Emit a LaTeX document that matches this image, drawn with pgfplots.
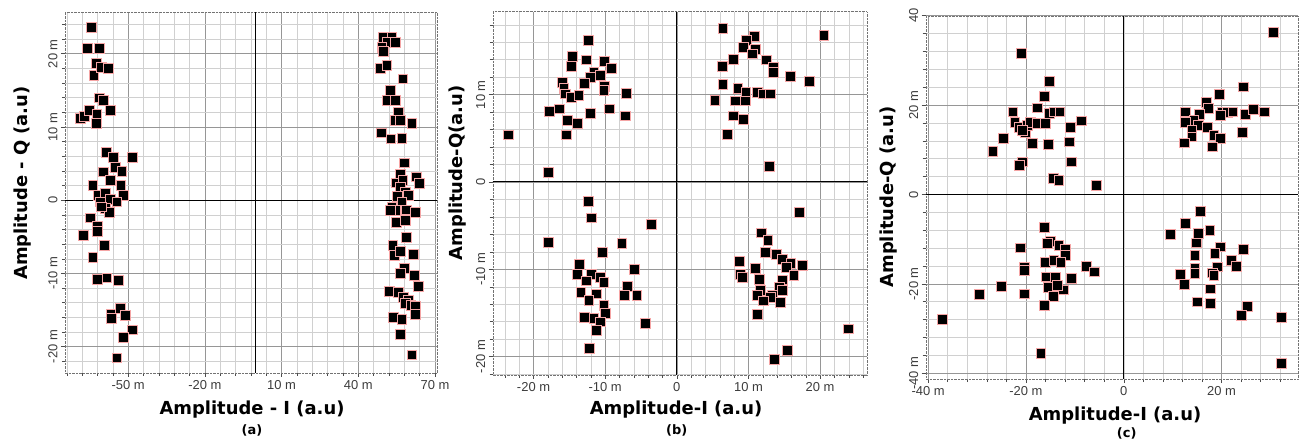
\documentclass[border=0pt]{standalone}
\usepackage{fontspec}
\setmainfont{DejaVu Sans}
\newfontfamily\tickfont{Liberation Sans}
\usepackage{pgfplots}
\pgfplotsset{compat=1.18}

\definecolor{edge}{RGB}{245,165,165}
\definecolor{majgrid}{RGB}{150,150,150}
\definecolor{mingrid}{RGB}{208,208,208}
\definecolor{ticktext}{RGB}{60,60,60}

\pgfplotsset{
  constel/.style={
    scale only axis,
    anchor=south west,
    axis line style={black!55, densely dotted},
    tick pos=left,
    tick align=outside,
    major tick length=4bp,
    minor tick length=3bp,
    tick style={black!70, line width=0.5pt, solid},
    grid=both,
    major grid style={majgrid, line width=0.6pt, solid},
    minor grid style={mingrid, line width=0.5pt, solid},
    ticklabel style={font=\tickfont\fontsize{13}{13}\selectfont, text=ticktext},
    yticklabel style={rotate=90, anchor=south},
    /pgf/number format/assume math mode=true,
    extra x ticks={0}, extra y ticks={0},
    extra x tick labels={}, extra y tick labels={},
    extra x tick style={grid=major, major grid style={black, line width=1pt, solid}, major tick length=0pt},
    extra y tick style={grid=major, major grid style={black, line width=1pt, solid}, major tick length=0pt},
  },
  zeroax/.style={
    scale only axis,
    anchor=south west,
    axis lines=middle,
    axis line style={black, line width=1pt, -},
    inner axis line style={-},
    tick align=center,
    major tick length=6bp,
    tick style={black!80, line width=0.5pt},
    xticklabel=\empty, yticklabel=\empty,
    grid=none,
  },
  sq/.style={only marks, mark=square*, mark size=4.9pt,
    mark options={fill=black, draw=edge, line width=0.45pt, solid}},
}

\begin{document}
\begin{tikzpicture}
\useasboundingbox (0,0) rectangle (1302bp,444bp);

% ---------------- panel (a)
\begin{axis}[zeroax, at={(65bp,71bp)}, width=372bp, height=361bp,
  xmin=-74.7, xmax=70.8, ymin=-23.6, ymax=25.7,
  xtick={-74,-68,...,70}, ytick={-22,-20,...,24}]
\end{axis}
\begin{axis}[constel, at={(65bp,71bp)}, width=372bp, height=361bp,
  xmin=-74.7, xmax=70.8, ymin=-23.6, ymax=25.7,
  xtick={-50,-20,10,40,70}, xticklabels={-50 m,-20 m,10 m,40 m,70 m},
  ytick={-20,-10,0,10,20}, yticklabels={-20 m,-10 m,0,10 m,20 m},
  minor xtick={-74,-68,...,70}, minor ytick={-22,-20,...,24}]
\addplot[sq] table {
x y
-64.5 23.6
-66.0 20.8
-61.3 20.8
-62.5 18.7
-63.5 17.1
-60.5 18.2
-57.8 18.0
-61.3 14.0
-59.7 13.6
-57.1 12.3
-68.8 11.2
-67.3 11.5
-65.2 12.3
-62.3 11.8
-62.5 10.5
-58.7 6.6
-55.8 5.9
-48.5 5.9
-59.7 3.9
-55.2 4.5
-52.5 4.0
-57.1 2.7
-52.9 2.0
-63.9 2.0
-61.7 0.7
-59.1 1.0
-51.9 0.7
-61.0 -0.2
-57.1 0.1
-54.5 -0.2
-59.1 -1.1
-57.4 -1.6
-60.4 -0.9
-64.9 -2.4
-62.1 -3.5
-62.1 -4.2
-67.5 -4.8
-59.3 -6.1
-63.9 -7.8
-62.1 -10.8
-58.4 -10.6
-53.8 -10.9
-56.5 -15.5
-56.5 -16.1
-53.2 -14.8
-51.2 -15.7
-48.4 -17.7
-51.9 -18.7
-54.5 -21.5
};
\addplot[sq] table {
x y
49.8 22.3
53.1 22.3
51.1 21.6
54.4 21.6
49.2 20.9
49.8 20.3
48.5 18.0
51.1 18.4
57.4 16.6
52.4 15.0
51.1 13.6
54.4 13.6
55.7 12.0
54.4 10.9
56.3 10.9
60.9 10.5
48.9 9.2
52.7 8.4
57.0 8.5
57.9 5.1
56.3 3.6
62.8 3.2
63.9 2.3
55.0 2.4
57.4 2.7
56.3 1.8
58.3 1.1
55.3 0.5
59.6 0.7
57.0 -0.2
53.1 -0.9
54.4 -1.4
58.9 -1.3
62.2 -1.6
52.4 -1.4
55.0 -3.0
58.3 -2.7
58.7 -5.1
53.5 -6.1
54.1 -7.5
56.3 -7.0
61.5 -7.4
57.9 -9.3
56.3 -10.0
61.9 -10.2
63.5 -11.7
52.2 -12.4
55.7 -12.6
57.6 -13.3
59.6 -13.6
58.3 -14.1
60.5 -14.3
62.2 -14.5
62.2 -15.6
53.8 -16.0
57.0 -16.3
56.3 -18.3
60.9 -21.1
};
\end{axis}

% ---------------- panel (b)
\begin{axis}[zeroax, at={(492.7bp,69bp)}, width=374bp, height=363.3bp,
  xmin=-25.7, xmax=26.5, ymin=-22.1, ymax=19.5,
  xtick={-24,-22,...,26}, ytick={-22,-20,...,18}]
\end{axis}
\begin{axis}[constel, at={(492.7bp,69bp)}, width=374bp, height=363.3bp,
  xmin=-25.7, xmax=26.5, ymin=-22.1, ymax=19.5,
  xtick={-20,-10,0,10,20}, xticklabels={-20 m,-10 m,0,10 m,20 m},
  ytick={-20,-10,0,10}, yticklabels={-20 m,-10 m,0,10 m},
  minor xtick={-24,-22,...,26}, minor ytick={-22,-20,...,18}]
\addplot[sq] table {
x y
-12.4 16.2
-14.6 14.4
-12.7 14.0
-10.1 13.8
-14.7 13.3
-9.2 13.0
-11.6 12.6
-10.7 12.2
-12.1 12.0
-12.9 11.3
-16.0 11.4
-10.1 11.0
-10.2 10.5
-15.8 10.7
-15.6 10.1
-14.7 9.7
-13.7 9.9
-7.1 10.2
-17.8 8.1
-16.4 8.4
-9.4 8.4
-12.1 7.9
-7.2 7.6
-15.3 7.1
-13.9 6.7
-15.4 5.4
-23.5 5.4
-17.9 1.1
6.4 17.6
20.5 16.8
10.8 16.7
9.7 16.2
9.3 15.4
10.9 15.2
10.5 14.7
7.9 14.1
12.5 14.0
6.3 13.3
13.5 13.1
13.5 12.6
15.8 12.1
18.5 11.5
6.4 11.2
8.5 10.7
9.6 10.3
11.2 10.3
12.1 10.1
13.0 10.1
5.3 9.4
8.1 9.3
9.5 9.3
7.9 7.6
9.3 7.2
7.0 5.5
12.9 1.8
-12.4 -2.2
-11.9 -4.1
-3.6 -4.8
-18.0 -6.9
-7.7 -7.0
-10.4 -8.0
-13.6 -9.4
-5.9 -10.0
-13.9 -10.6
-11.9 -10.6
-10.7 -10.9
-12.7 -11.3
-10.2 -11.5
-6.9 -11.9
-13.4 -12.6
-11.3 -12.8
-7.3 -13.0
-5.6 -13.0
-12.3 -13.5
-10.2 -14.1
-10.0 -15.0
-12.9 -15.5
-11.6 -15.6
-10.7 -16.0
-11.3 -17.0
-4.4 -16.2
-12.2 -19.0
17.1 -3.5
11.8 -5.8
12.7 -6.7
12.3 -8.0
13.9 -8.3
14.7 -8.8
8.7 -9.1
15.9 -9.3
17.5 -9.5
10.9 -9.9
15.3 -9.8
8.8 -10.6
9.1 -10.9
16.3 -10.7
11.5 -11.1
14.7 -11.2
14.3 -12.0
11.6 -12.4
14.7 -12.4
11.2 -13.0
13.3 -13.0
13.0 -13.2
12.1 -13.6
14.4 -13.8
11.2 -15.1
23.9 -16.8
15.4 -19.3
13.6 -20.3
};
\end{axis}

% ---------------- panel (c)
\begin{axis}[zeroax, at={(925.7bp,65bp)}, width=372.6bp, height=363.3bp,
  xmin=-40.5, xmax=35.7, ymin=-41.3, ymax=40,
  xtick={-40,-36,...,32}, ytick={-40,-36,...,40}]
\end{axis}
\begin{axis}[constel, at={(925.7bp,65bp)}, width=372.6bp, height=363.3bp,
  xmin=-40.5, xmax=35.7, ymin=-41.3, ymax=40,
  xtick={-40,-20,0,20}, xticklabels={-40 m,-20 m,0,20 m},
  ytick={-40,-20,0,20,40}, yticklabels={-40 m,-20 m,0,20 m,40},
  minor xtick={-40,-36,...,32}, minor ytick={-40,-36,...,40}]
\addplot[sq] table {
x y
-20.9 31.6
-15.3 25.4
-16.2 21.9
-22.7 18.5
-17.7 19.4
-15.3 18.1
-14.3 18.5
-13.1 18.5
-22.3 16.1
-21.4 15.1
-20.2 14.0
-19.8 15.5
-19.1 16.1
-17.7 15.9
-16.0 15.9
-20.8 14.4
-8.7 16.5
-10.9 15.1
-24.7 12.5
-26.8 9.7
-18.7 11.4
-15.5 11.2
-11.1 11.8
-10.7 7.3
-20.8 7.3
-21.3 6.6
-14.5 3.7
-13.3 3.1
-5.7 2.1
30.5 36.3
24.4 24.1
19.6 22.4
16.8 20.7
17.3 19.3
12.5 18.5
15.5 17.9
20.2 18.5
21.1 18.4
22.3 18.5
24.9 18.0
26.4 19.0
28.8 18.5
19.7 17.8
14.3 16.6
12.5 16.1
15.2 15.5
17.1 15.1
13.9 14.4
18.4 13.3
24.3 13.9
13.9 12.9
19.7 12.5
12.3 11.6
18.1 10.7
-16.2 -7.4
-15.0 -10.4
-21.1 -11.9
-13.3 -11.4
-11.9 -12.3
-15.7 -11.0
-12.0 -13.6
-16.0 -15.1
-14.3 -14.7
-12.9 -15.1
-20.4 -16.3
-20.4 -16.9
-7.6 -16.1
-6.1 -17.3
-15.9 -18.4
-14.0 -18.6
-10.8 -18.8
-15.5 -20.7
-12.4 -21.3
-13.6 -20.3
-25.0 -20.5
-29.5 -22.4
-20.4 -22.2
-14.5 -22.8
-16.2 -24.8
-37.2 -27.9
-17.0 -35.6
15.7 -3.7
12.5 -6.4
9.5 -8.9
17.6 -8.0
15.2 -8.6
14.8 -10.8
19.8 -11.7
18.6 -13.2
24.5 -12.3
14.5 -13.6
22.0 -14.7
23.0 -16.1
19.1 -16.2
14.5 -16.4
11.6 -17.8
14.5 -17.7
18.1 -17.5
18.4 -18.1
12.3 -20.1
17.7 -21.1
15.0 -24.0
17.7 -24.3
25.2 -25.0
24.0 -27.0
32.2 -27.4
32.2 -37.8
};
\end{axis}

% ---------------- labels
\tikzset{bl/.style={font=\bfseries\fontsize{18}{18}\selectfont, inner sep=0pt},
         subcap/.style={font=\bfseries\fontsize{13}{13}\selectfont, inner sep=0pt}}
\node[bl] at (252bp,34bp) {Amplitude - I (a.u)};
\node[subcap] at (252bp,14bp) {(a)};
\node[bl, rotate=90] at (23bp,261bp) {Amplitude - Q (a.u)};

\node[bl] at (676bp,34bp) {Amplitude-I (a.u)};
\node[subcap] at (676.7bp,14bp) {(b)};
\node[bl, rotate=90] at (457.5bp,271bp) {Amplitude-Q(a.u)};

\node[bl] at (1115bp,28bp) {Amplitude-I (a.u)};
\node[subcap] at (1126.7bp,11bp) {(c)};
\node[bl, rotate=90] at (889bp,247bp) {Amplitude-Q (a.u)};
\end{tikzpicture}
\end{document}
